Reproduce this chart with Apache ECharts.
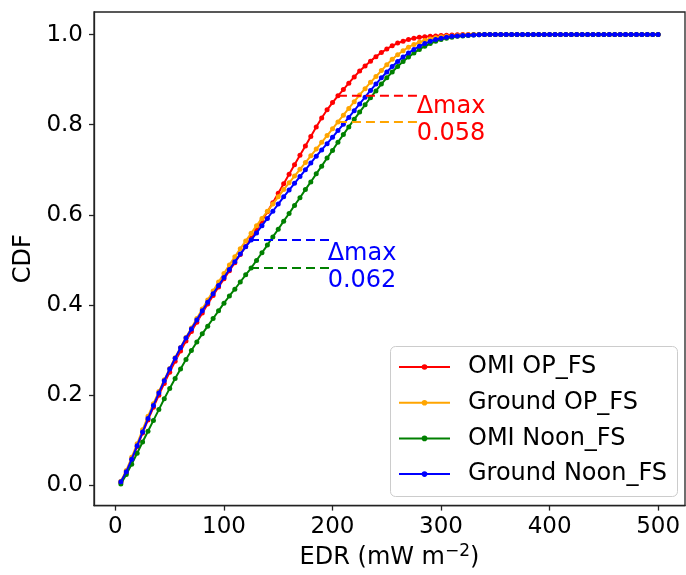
<!DOCTYPE html>
<html>
<head>
<meta charset="utf-8">
<script src="https://cdn.jsdelivr.net/npm/echarts@6/dist/echarts.min.js"></script>
<style>html,body{margin:0;padding:0;background:#fff;}#c{width:686px;height:575px;}</style>
</head>
<body>
<div id="c"></div>
<script>
// EDR values (mW m^-2)
const edr = [5,10,15,20,25,30,35,40,45,50,55,60,65,70,75,80,85,90,95,100,
  105,110,115,120,125,130,135,140,145,150,155,160,165,170,175,180,185,190,195,200,
  205,210,215,220,225,230,235,240,245,250,255,260,265,270,275,280,285,290,295,300,
  305,310,315,320,325,330,335,340,345,350,355,360,365,370,375,380,385,390,395,400,
  405,410,415,420,425,430,435,440,445,450,455,460,465,470,475,480,485,490,495,500];

const omiOP = [0.007,0.028,0.056,0.086,0.116,0.145,0.173,0.200,0.226,0.251,0.275,0.298,0.320,0.341,0.362,0.382,0.402,0.421,0.440,0.458,
  0.476,0.494,0.512,0.530,0.548,0.567,0.587,0.607,0.627,0.648,0.669,0.690,0.711,0.732,0.753,0.774,0.795,0.815,0.833,0.849,
  0.864,0.878,0.892,0.906,0.919,0.930,0.941,0.951,0.960,0.968,0.975,0.981,0.985,0.989,0.992,0.994,0.995,0.996,0.997,0.998,
  0.9985,0.999,0.9995,1,1,1,1,1,1,1,1,1,1,1,1,1,1,1,1,1,
  1,1,1,1,1,1,1,1,1,1,1,1,1,1,1,1,1,1,1,1];

const groundOP = [0.009,0.033,0.062,0.092,0.123,0.153,0.181,0.208,0.234,0.259,0.283,0.306,0.328,0.349,0.370,0.391,0.411,0.431,0.451,0.470,
  0.489,0.507,0.525,0.542,0.559,0.576,0.592,0.608,0.624,0.640,0.656,0.671,0.686,0.701,0.716,0.731,0.746,0.761,0.776,0.791,
  0.806,0.821,0.836,0.851,0.866,0.880,0.894,0.907,0.920,0.933,0.945,0.955,0.964,0.972,0.978,0.983,0.987,0.990,0.993,0.995,
  0.996,0.997,0.998,0.999,0.9995,1,1,1,1,1,1,1,1,1,1,1,1,1,1,1,
  1,1,1,1,1,1,1,1,1,1,1,1,1,1,1,1,1,1,1,1];

const omiNoon = [0.003,0.024,0.047,0.071,0.096,0.120,0.144,0.168,0.192,0.215,0.237,0.258,0.279,0.299,0.318,0.336,0.353,0.370,0.387,0.404,
  0.420,0.435,0.451,0.467,0.482,0.499,0.516,0.533,0.551,0.568,0.586,0.603,0.621,0.638,0.656,0.673,0.691,0.708,0.726,0.743,
  0.761,0.778,0.795,0.812,0.828,0.844,0.860,0.875,0.890,0.904,0.917,0.929,0.940,0.950,0.959,0.967,0.974,0.980,0.985,0.989,
  0.992,0.994,0.996,0.997,0.998,0.999,0.9995,1,1,1,1,1,1,1,1,1,1,1,1,1,
  1,1,1,1,1,1,1,1,1,1,1,1,1,1,1,1,1,1,1,1];

const groundNoon = [0.008,0.030,0.058,0.088,0.118,0.148,0.177,0.205,0.232,0.258,0.282,0.305,0.327,0.347,0.367,0.387,0.406,0.425,0.443,0.461,
  0.479,0.496,0.513,0.529,0.544,0.560,0.576,0.592,0.608,0.624,0.640,0.655,0.670,0.685,0.700,0.715,0.730,0.744,0.758,0.772,
  0.787,0.801,0.816,0.831,0.846,0.861,0.876,0.890,0.904,0.917,0.929,0.940,0.950,0.959,0.967,0.974,0.980,0.985,0.989,0.992,
  0.994,0.996,0.997,0.998,0.9985,0.999,0.9995,1,1,1,1,1,1,1,1,1,1,1,1,1,
  1,1,1,1,1,1,1,1,1,1,1,1,1,1,1,1,1,1,1,1];

// Δmax guide lines [x, y]
const opMaxTop = [[205, 0.864], [280, 0.864]];
const opMaxBottom = [[205, 0.806], [280, 0.806]];
const noonMaxTop = [[124, 0.544], [200, 0.544]];
const noonMaxBottom = [[124, 0.482], [200, 0.482]];
const opLabel = [277.5, 0.8096];
const noonLabel = [195.5, 0.4835];
const opDelta = '0.058';
const noonDelta = '0.062';

const xTicks = [0, 100, 200, 300, 400, 500];
const yTicks = [0, 0.2, 0.4, 0.6, 0.8, 1.0];

const names = ['OMI OP_FS', 'Ground OP_FS', 'OMI Noon_FS', 'Ground Noon_FS'];
const colors = ['#ff0000', '#ffa500', '#008000', '#0000ff'];
const values = [omiOP, groundOP, omiNoon, groundNoon];

const FONT = 'DejaVu Sans';
const TICK_FS = 23;
const FS = 24;

const chart = echarts.init(document.getElementById('c'), null, {renderer: 'canvas'});

const curveSeries = names.map((n, i) => ({
  name: n,
  type: 'line',
  data: edr.map((x, j) => [x, values[i][j]]),
  symbol: 'circle',
  symbolSize: 5,
  showAllSymbol: true,
  lineStyle: {color: colors[i], width: 2},
  itemStyle: {color: colors[i]},
  z: 2 + i,
  animation: false
}));

function dashSeries(data, color) {
  return {
    type: 'line', data: data, symbol: 'none',
    lineStyle: {color: color, width: 2, type: [9, 5]},
    z: 10, animation: false, silent: true
  };
}

const legendBox = {
  type: 'rect', left: 390, top: 346, z: 90,
  shape: {width: 287, height: 150, r: 5},
  style: {fill: 'rgba(255,255,255,0.8)', stroke: '#cccccc', lineWidth: 1}
};

chart.setOption({
  animation: false,
  backgroundColor: '#fff',
  textStyle: {fontFamily: FONT},
  grid: {left: 94, right: 1, top: 12, bottom: 67, show: true, borderColor: '#222', borderWidth: 1.3, backgroundColor: 'transparent'},
  graphic: [legendBox],
  legend: {
    data: names,
    orient: 'vertical',
    left: 390, top: 348,
    padding: [7, 9, 11, 8],
    itemWidth: 51, itemHeight: 7, itemGap: 11.7,
    z: 100,
    backgroundColor: 'transparent', borderWidth: 0,
    formatter: n => '{g| }' + n,
    textStyle: {fontFamily: FONT, fontSize: FS, color: '#000', lineHeight: 24,
      rich: {g: {width: 13, fontSize: FS, lineHeight: 24}}}
  },
  xAxis: {
    type: 'value', min: -19.75, max: 524.75,
    name: 'EDR (mW m{sup|−2})', nameLocation: 'middle', nameGap: 34,
    nameTextStyle: {fontFamily: FONT, fontSize: FS, color: '#000',
      rich: {sup: {fontFamily: FONT, fontSize: 17, color: '#000', padding: [0, 0, 12, 0]}}},
    axisLine: {show: true, onZero: false, lineStyle: {color: '#222', width: 1.3}},
    axisTick: {show: true, length: 5, inside: false, customValues: xTicks, lineStyle: {color: '#222', width: 1.3}},
    axisLabel: {customValues: xTicks, fontFamily: FONT, fontSize: TICK_FS, color: '#000', margin: 10},
    splitLine: {show: false}
  },
  yAxis: {
    type: 'value', min: -0.045, max: 1.05,
    name: 'CDF', nameLocation: 'middle', nameGap: 52,
    nameTextStyle: {fontFamily: FONT, fontSize: FS, color: '#000'},
    axisLine: {show: true, onZero: false, lineStyle: {color: '#222', width: 1.3}},
    axisTick: {show: true, length: 5, inside: false, customValues: yTicks, lineStyle: {color: '#222', width: 1.3}},
    axisLabel: {customValues: yTicks, fontFamily: FONT, fontSize: TICK_FS, color: '#000', margin: 11,
      formatter: v => v.toFixed(1)},
    splitLine: {show: false}
  },
  series: curveSeries.concat([
    dashSeries(opMaxTop, '#ff0000'),
    dashSeries(opMaxBottom, '#ffa500'),
    dashSeries(noonMaxTop, '#0000ff'),
    dashSeries(noonMaxBottom, '#008000')
  ])
});

function annot(pt, color, val) {
  const p = chart.convertToPixel({gridIndex: 0}, pt);
  return {
    type: 'text', x: p[0], y: p[1], z: 50, silent: true,
    style: {text: 'Δmax\n' + val, fill: color, font: FS + 'px "' + FONT + '"',
      align: 'left', verticalAlign: 'middle', lineHeight: 27}
  };
}
chart.setOption({
  graphic: [legendBox, annot(opLabel, '#ff0000', opDelta), annot(noonLabel, '#0000ff', noonDelta)]
}, {replaceMerge: ['graphic']});
</script>
</body>
</html>
